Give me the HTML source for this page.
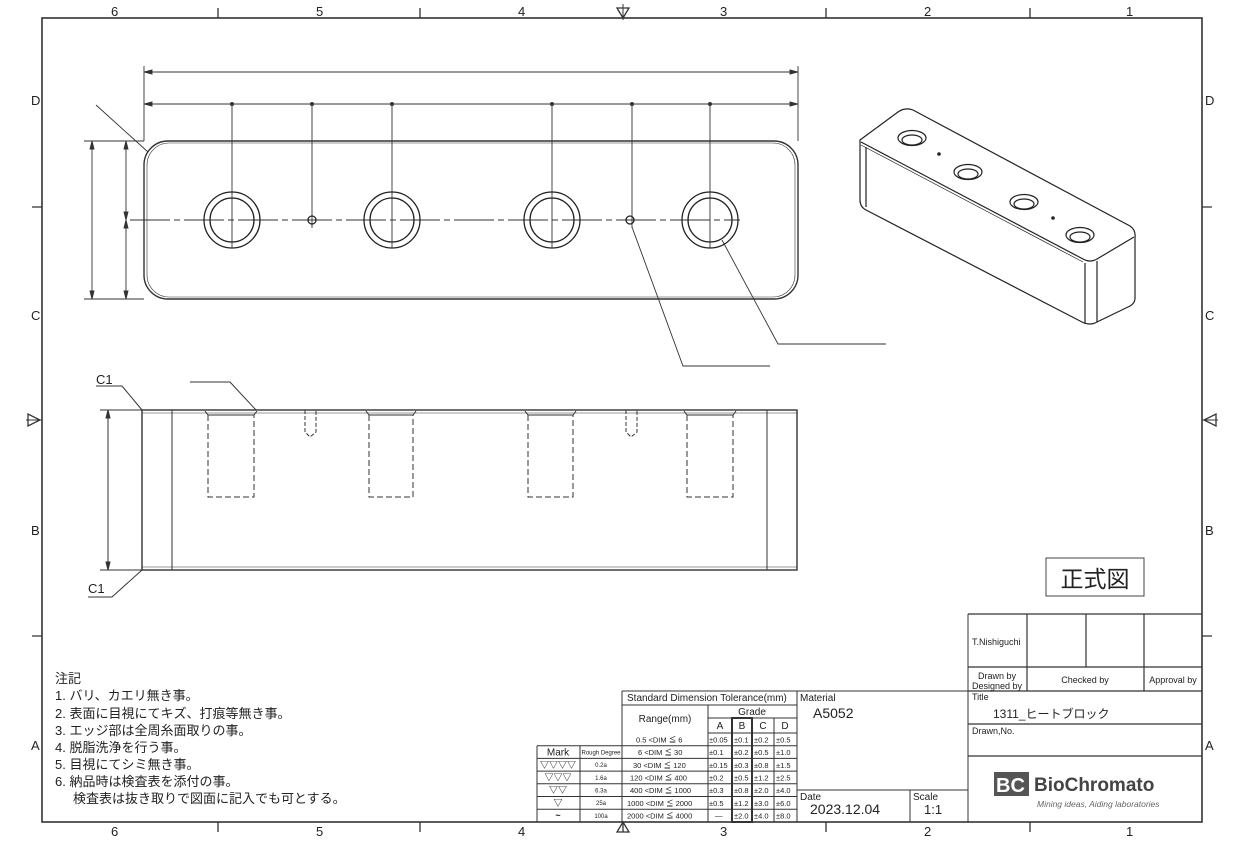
<!DOCTYPE html>
<html><head><meta charset="utf-8"><style>
html,body{margin:0;padding:0;background:#fff;}
svg{display:block;}
text{font-family:"Liberation Sans","Noto Sans CJK JP",sans-serif;fill:#222;}
</style></head><body>
<svg width="1244" height="841" viewBox="0 0 1244 841" xmlns="http://www.w3.org/2000/svg">
<g stroke="#333" fill="none" stroke-width="1.3">
<rect x="42" y="18" width="1160" height="804" stroke-width="1.6"/>
<path d="M218 8V18M420 8V18M826 8V18M1030 8V18M218 822V832M420 822V832M623 822V832M826 822V832M1030 822V832"/>
<path d="M32 207H42M32 636H42M1202 207H1212M1202 636H1212"/>
<path d="M617 8L629 8L623 18Z M617 832L629 832L623 822Z M28 414V426L40 420Z M1216 414V426L1204 420Z"/>
<path d="M623 4V20M26 420H42M1202 420H1218" stroke-width="1"/>
</g>
<g font-size="13">
<text x="111" y="16">6</text><text x="316" y="16">5</text><text x="518" y="16">4</text><text x="720" y="16">3</text><text x="924" y="16">2</text><text x="1126" y="16">1</text>
<text x="111" y="836">6</text><text x="316" y="836">5</text><text x="518" y="836">4</text><text x="720" y="836">3</text><text x="924" y="836">2</text><text x="1126" y="836">1</text>
<text x="31" y="105">D</text><text x="31" y="320">C</text><text x="31" y="535">B</text><text x="31" y="750">A</text>
<text x="1205" y="105">D</text><text x="1205" y="320">C</text><text x="1205" y="535">B</text><text x="1205" y="750">A</text>
</g>

<!-- TOP VIEW -->
<g stroke="#333" fill="none" stroke-width="0.9">
<rect x="144" y="141" width="654" height="158" rx="24" stroke-width="1.4"/>
<rect x="147" y="143" width="648" height="154" rx="22" stroke-width="0.6"/>
<path d="M144 72H798M144 104H798M144 66V141M798 66V141"/>
<path d="M144 72l8 -2v4zM798 72l-8 -2v4zM144 104l8 -2v4zM798 104l-8 -2v4z" fill="#333"/>
<path d="M232 104V248M312 104V228M392 104V248M552 104V248M632 104V228M710 104V248"/>
<path d="M130 220H740" stroke-dasharray="40 4 6 4"/>
<path d="M84 141H144M84 299H144M92 141V299M126 141V299"/>
<path d="M92 141l-2 8h4zM92 299l-2 -8h4zM126 141l-2 8h4zM126 220l-2 -8h4zM126 220l-2 8h4zM126 299l-2 -8h4z" fill="#333"/>
<path d="M96 105L148 152M722 240L778 344H886M632 227L683 366H770"/>
</g>
<g fill="#333"><circle cx="232" cy="104" r="2"/><circle cx="312" cy="104" r="2"/><circle cx="392" cy="104" r="2"/><circle cx="552" cy="104" r="2"/><circle cx="632" cy="104" r="2"/><circle cx="710" cy="104" r="2"/></g>
<g stroke="#222" fill="none" stroke-width="1.3">
<circle cx="232" cy="220" r="28"/><circle cx="232" cy="220" r="22"/>
<circle cx="392" cy="220" r="28"/><circle cx="392" cy="220" r="22"/>
<circle cx="552" cy="220" r="28"/><circle cx="552" cy="220" r="22"/>
<circle cx="710" cy="220" r="28"/><circle cx="710" cy="220" r="22"/>
<circle cx="312" cy="220" r="4"/><circle cx="630" cy="220" r="4"/>
</g>

<!-- FRONT VIEW -->
<g stroke="#333" fill="none" stroke-width="1">
<rect x="142" y="410" width="655" height="160" stroke-width="1.4"/>
<path d="M142 413H797M142 567H797" stroke-width="0.6"/>
<path d="M172 410V570M767 410V570"/>
<path d="M208 415V497H254V415M369 415V497H413V415M528 415V497H573V415M687 415V497H733V415" stroke-dasharray="6 3"/>
<path d="M205 411L208 415H254L257 411M366 411L369 415H413L416 411M525 411L528 415H573L576 411M684 411L687 415H733L736 411"/>
<path d="M305 410V432L310 437L316 432V410M626 410V432L631 437L637 432V410" stroke-dasharray="4 2"/>
<path d="M100 410H142M100 570H142M108 410V570"/>
<path d="M108 410l-2 8h4zM108 570l-2 -8h4z" fill="#333"/>
<path d="M96 386H122L142 410M190 382H230L256 410M88 597H112L142 570"/>
</g>
<text x="96" y="384" font-size="13">C1</text>
<text x="88" y="593" font-size="13">C1</text>

<!-- ISOMETRIC -->
<g stroke="#222" fill="none" stroke-width="1.2">
<path d="M860 140L898 112Q905 107 913 110L1130 226Q1136 230 1135 238V298Q1135 304 1128 307L1097 322Q1090 326 1082 322L866 210Q860 207 860 200Z" fill="#fff"/>
<path d="M861 142L1083 259Q1090 263 1097 259L1134 237"/>
<path d="M861 145L1083 262" stroke-width="0.7"/>
<path d="M1085 263V324M1097 261V322M866 147V207"/>
<ellipse cx="912" cy="138" rx="14" ry="7.5"/><ellipse cx="912" cy="140" rx="10" ry="5"/>
<ellipse cx="968" cy="172" rx="14" ry="7.5"/><ellipse cx="968" cy="174" rx="10" ry="5"/>
<ellipse cx="1024" cy="202" rx="14" ry="7.5"/><ellipse cx="1024" cy="204" rx="10" ry="5"/>
<ellipse cx="1080" cy="235" rx="14" ry="7.5"/><ellipse cx="1080" cy="237" rx="10" ry="5"/>
</g>
<circle cx="939" cy="154" r="1.8" fill="#222"/><circle cx="1053" cy="218" r="1.8" fill="#222"/>

<!-- stamp -->
<rect x="1046" y="558" width="98" height="38" fill="none" stroke="#444" stroke-width="1"/>
<text x="1095" y="587" font-size="23" text-anchor="middle">正式図</text>

<!-- NOTES -->
<g font-size="13">
<text x="55" y="683">注記</text>
<text x="55" y="700">1. バリ、カエリ無き事。</text>
<text x="55" y="718">2. 表面に目視にてキズ、打痕等無き事。</text>
<text x="55" y="735">3. エッジ部は全周糸面取りの事。</text>
<text x="55" y="752">4. 脱脂洗浄を行う事。</text>
<text x="55" y="769">5. 目視にてシミ無き事。</text>
<text x="55" y="786">6. 納品時は検査表を添付の事。</text>
<text x="73" y="803">検査表は抜き取りで図面に記入でも可とする。</text>
</g>

<!-- TOLERANCE TABLE -->
<g stroke="#333" fill="none" stroke-width="1">
<path d="M622 691H968M622 705H797M708 718H797M708 733H797M622 745.7H797M537 745.7H622M537 758.4H797M537 771.1H797M537 783.8H797M537 796.5H797M537 809.2H797"/>
<path d="M622 691V822M537 745.7V822M580 745.7V822M708 705V822M732 718V822M752 718V822M774 718V822M797 691V822"/>
<rect x="732" y="718" width="20" height="104" stroke-width="2"/>
<path d="M797 790H968M910 790V822M968 614V822"/>
</g>
<g font-size="10">
<text x="627" y="701">Standard Dimension Tolerance(mm)</text>
<text x="665" y="722" text-anchor="middle">Range(mm)</text>
<text x="752" y="715" text-anchor="middle">Grade</text>
<text x="720" y="729" text-anchor="middle">A</text><text x="742" y="729" text-anchor="middle">B</text><text x="763" y="729" text-anchor="middle">C</text><text x="785" y="729" text-anchor="middle">D</text>
<text x="558" y="755.5" text-anchor="middle">Mark</text>
</g>
<g font-size="7.5">
<text x="636" y="742.5">0.5 &lt;DIM ≦ 6</text>
<text x="638" y="755">6 &lt;DIM ≦ 30</text>
<text x="633" y="768">30 &lt;DIM ≦ 120</text>
<text x="630" y="780.5">120 &lt;DIM ≦ 400</text>
<text x="630" y="793">400 &lt;DIM ≦ 1000</text>
<text x="627" y="806">1000 &lt;DIM ≦ 2000</text>
<text x="627" y="818.5">2000 &lt;DIM ≦ 4000</text>
<text x="709" y="742.5">±0.05</text><text x="709" y="755">±0.1</text><text x="709" y="768">±0.15</text><text x="709" y="780.5">±0.2</text><text x="709" y="793">±0.3</text><text x="709" y="806">±0.5</text><text x="715" y="818.5">—</text>
<text x="734" y="742.5">±0.1</text><text x="734" y="755">±0.2</text><text x="734" y="768">±0.3</text><text x="734" y="780.5">±0.5</text><text x="734" y="793">±0.8</text><text x="734" y="806">±1.2</text><text x="734" y="818.5">±2.0</text>
<text x="754" y="742.5">±0.2</text><text x="754" y="755">±0.5</text><text x="754" y="768">±0.8</text><text x="754" y="780.5">±1.2</text><text x="754" y="793">±2.0</text><text x="754" y="806">±3.0</text><text x="754" y="818.5">±4.0</text>
<text x="776" y="742.5">±0.5</text><text x="776" y="755">±1.0</text><text x="776" y="768">±1.5</text><text x="776" y="780.5">±2.5</text><text x="776" y="793">±4.0</text><text x="776" y="806">±6.0</text><text x="776" y="818.5">±8.0</text>
</g>
<g font-size="6" text-anchor="middle">
<text x="601" y="754.5">Rough Degree</text>
<text x="601" y="767">0.2a</text><text x="601" y="780">1.6a</text><text x="601" y="792.5">6.3a</text><text x="601" y="805">25a</text><text x="601" y="818">100a</text>
</g>
<g font-size="9" text-anchor="middle" font-weight="bold">
<text x="558" y="768">▽▽▽▽</text><text x="558" y="780.5">▽▽▽</text><text x="558" y="793">▽▽</text><text x="558" y="806">▽</text><text x="558" y="818.5">~</text>
</g>

<!-- Material / date -->
<text x="800" y="701" font-size="10">Material</text>
<text x="813" y="718" font-size="14">A5052</text>
<text x="800" y="800" font-size="10">Date</text>
<text x="810" y="814" font-size="14">2023.12.04</text>
<text x="913" y="800" font-size="10">Scale</text>
<text x="924" y="814" font-size="13">1:1</text>

<!-- TITLE BLOCK -->
<g stroke="#333" fill="none" stroke-width="1.2">
<path d="M968 614H1202M968 667H1202M968 691H1202M968 724H1202M968 756H1202"/>
<path d="M1027 614V691M1086 614V667M1144 614V691"/>
</g>
<g font-size="9">
<text x="972" y="645">T.Nishiguchi</text>
<text x="997" y="679" text-anchor="middle">Drawn by</text>
<text x="997" y="689" text-anchor="middle">Designed by</text>
<text x="1085" y="683" text-anchor="middle">Checked by</text>
<text x="1173" y="683" text-anchor="middle">Approval by</text>
<text x="972" y="700">Title</text>
<text x="972" y="734">Drawn,No.</text>
</g>
<text x="993" y="718" font-size="12">1311_ヒートブロック</text>
<rect x="994" y="772" width="35" height="24" fill="#555"/>
<text x="996" y="792" font-size="20" font-weight="bold" style="fill:#fff">BC</text>
<text x="1034" y="791" font-size="19" font-weight="bold" style="fill:#444">BioChromato</text>
<text x="1037" y="807" font-size="8.5" font-style="italic" style="fill:#666">Mining ideas, Aiding laboratories</text>
</svg>
</body></html>
